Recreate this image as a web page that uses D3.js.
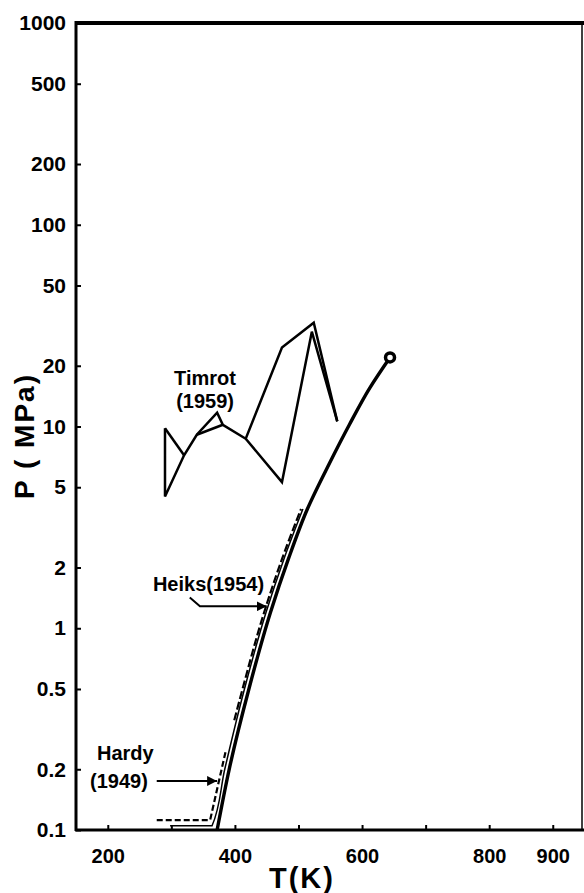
<!DOCTYPE html>
<html>
<head>
<meta charset="utf-8">
<script src="https://cdn.jsdelivr.net/npm/d3@7"></script>
<style>
  body { margin: 0; background: #fff; }
  svg { display: block; font-family: "Liberation Sans", Arial, sans-serif; font-weight: bold; }
</style>
</head>
<body>
<div id="chart"></div>
<script>
// saturation curve (thick solid), ends at critical point
var mainT = [372, 391, 422, 456, 484, 514, 548, 580, 612, 644];
var mainP = [0.1, 0.2, 0.5, 1.2, 2.2, 3.9, 6.5, 10.2, 15.5, 22.0];

// thin solid curve running alongside
var thinT = [298, 364, 384, 415, 449, 477, 507];
var thinP = [0.105, 0.105, 0.2, 0.5, 1.2, 2.2, 3.9];

// Heiks (1954), dashed
var heiksT = [399, 412, 446, 474, 504];
var heiksP = [0.35, 0.5, 1.2, 2.2, 3.9];

// Hardy (1949), dashed
var hardyT = [277, 361, 386];
var hardyP = [0.112, 0.112, 0.25];

// Timrot (1959) polylines
var timrot1T = [290, 290, 320, 340, 372, 381, 417, 474, 524, 561];
var timrot1P = [9.8, 4.5, 7.2, 9.1, 11.7, 10.2, 8.7, 24.6, 32.7, 10.6];
var timrot2T = [290, 320];
var timrot2P = [9.8, 7.2];
var timrot3T = [340, 381];
var timrot3P = [9.1, 10.2];
var timrot4T = [417, 474, 521, 561];
var timrot4P = [8.7, 5.3, 29.5, 10.6];

var yTicks = [0.1, 0.2, 0.5, 1, 2, 5, 10, 20, 50, 100, 200, 500, 1000];
var xTicks = [200, 300, 400, 500, 600, 700, 800, 900];
var xLabels = [200, 400, 600, 800, 900];

var W = 584, H = 893;
var margin = {left: 76, right: 582, top: 23, bottom: 830};

var svg = d3.select("#chart").append("svg")
    .attr("width", W)
    .attr("height", H);

var x = d3.scaleLinear().domain([150, 946]).range([margin.left, margin.right]);
var y = d3.scaleLog().domain([0.1, 1000]).range([margin.bottom, margin.top]);

function zip(ts, ps) { return ts.map(function(t, i) { return [t, ps[i]]; }); }

var line = d3.line()
    .x(function(d) { return x(d[0]); })
    .y(function(d) { return y(d[1]); });
var smooth = d3.line()
    .curve(d3.curveMonotoneY)
    .x(function(d) { return x(d[0]); })
    .y(function(d) { return y(d[1]); });

// y axis (ticks point inward)
var yAxis = svg.append("g")
    .attr("transform", "translate(" + margin.left + ",0)")
    .call(d3.axisLeft(y).tickValues(yTicks).tickSizeInner(-5).tickSizeOuter(0).tickPadding(10)
      .tickFormat(function(d) { return d < 1 ? String(d) : d3.format("d")(d); }));
yAxis.select(".domain").remove();
yAxis.selectAll(".tick line").attr("stroke", "#000").attr("stroke-width", 2);
yAxis.selectAll(".tick text")
    .attr("font-size", 21).attr("font-weight", "bold").attr("font-family", "Liberation Sans, Arial, sans-serif")
    .attr("fill", "#000");

// x axis (ticks point inward)
var xAxis = svg.append("g")
    .attr("transform", "translate(0," + margin.bottom + ")")
    .call(d3.axisBottom(x).tickValues(xTicks).tickSizeInner(-5).tickSizeOuter(0).tickPadding(19)
      .tickFormat(function(d) { return xLabels.indexOf(d) >= 0 ? d : ""; }));
xAxis.select(".domain").remove();
xAxis.selectAll(".tick line").attr("stroke", "#000").attr("stroke-width", 2);
xAxis.selectAll(".tick text")
    .attr("font-size", 20).attr("font-weight", "bold").attr("font-family", "Liberation Sans, Arial, sans-serif")
    .attr("fill", "#000");

// frame
svg.append("line").attr("x1", margin.left - 1).attr("x2", W).attr("y1", margin.top).attr("y2", margin.top)
    .attr("stroke", "#000").attr("stroke-width", 4);
svg.append("line").attr("x1", margin.left).attr("x2", margin.left).attr("y1", margin.top - 2).attr("y2", margin.bottom + 1)
    .attr("stroke", "#000").attr("stroke-width", 3);
svg.append("line").attr("x1", margin.left - 1).attr("x2", W).attr("y1", margin.bottom).attr("y2", margin.bottom)
    .attr("stroke", "#000").attr("stroke-width", 3);
svg.append("line").attr("x1", margin.right).attr("x2", margin.right).attr("y1", margin.top).attr("y2", margin.bottom)
    .attr("stroke", "#000").attr("stroke-width", 1.5);

// axis titles
svg.append("text")
    .attr("transform", "translate(34,436) rotate(-90)")
    .attr("text-anchor", "middle")
    .attr("font-size", 28)
    .attr("letter-spacing", 2)
    .text("P ( MPa)");
svg.append("text")
    .attr("x", 302).attr("y", 888)
    .attr("text-anchor", "middle")
    .attr("font-size", 29)
    .attr("letter-spacing", 2)
    .text("T(K)");

var g = svg.append("g").attr("fill", "none").attr("stroke", "#000")
    .attr("stroke-linejoin", "miter");

// Timrot
[[timrot1T, timrot1P], [timrot2T, timrot2P], [timrot3T, timrot3P], [timrot4T, timrot4P]].forEach(function(s) {
  g.append("path").datum(zip(s[0], s[1])).attr("d", line).attr("stroke-width", 2.5);
});

// Hardy dashed
g.append("path").datum(zip(hardyT, hardyP)).attr("d", line)
    .attr("stroke-width", 2.2).attr("stroke-dasharray", "6,3");

// Heiks dashed
g.append("path").datum(zip(heiksT, heiksP)).attr("d", smooth)
    .attr("stroke-width", 2.2).attr("stroke-dasharray", "8,3");

// thin solid
g.append("path").datum(zip(thinT, thinP)).attr("d", smooth)
    .attr("stroke-width", 1.5);

// main curve
g.append("path").datum(zip(mainT, mainP)).attr("d", smooth)
    .attr("stroke-width", 3.4);

// critical point
svg.append("circle")
    .attr("cx", x(mainT[mainT.length - 1])).attr("cy", y(mainP[mainP.length - 1]))
    .attr("r", 4.5).attr("fill", "#fff").attr("stroke", "#000").attr("stroke-width", 3.5);

// annotations
function label(t, p, txt, anchor) {
  svg.append("text").attr("x", x(t)).attr("y", y(p))
    .attr("text-anchor", anchor || "start")
    .attr("font-size", 20)
    .text(txt);
}
label(353, 15.97, "Timrot", "middle");
label(353, 12.4, "(1959)", "middle");
label(271, 1.525, "Heiks(1954)");
label(183, 0.222, "Hardy");
label(172, 0.161, "(1949)");

svg.append("defs").append("marker")
    .attr("id", "arrow").attr("viewBox", "0 0 10 10")
    .attr("refX", 10).attr("refY", 5)
    .attr("markerWidth", 5).attr("markerHeight", 5)
    .attr("markerUnits", "strokeWidth")
    .attr("orient", "auto")
  .append("path").attr("d", "M0,0 L10,5 L0,10 Z").attr("fill", "#000");

var arrowHeiks = [[329, 1.42], [345, 1.285], [450, 1.285]];
var arrowHardy = [[277, 0.175], [372, 0.175]];
[arrowHeiks, arrowHardy].forEach(function(a) {
  svg.append("path").datum(a).attr("d", line)
    .attr("fill", "none").attr("stroke", "#000").attr("stroke-width", 2)
    .attr("marker-end", "url(#arrow)");
});
</script>
</body>
</html>
